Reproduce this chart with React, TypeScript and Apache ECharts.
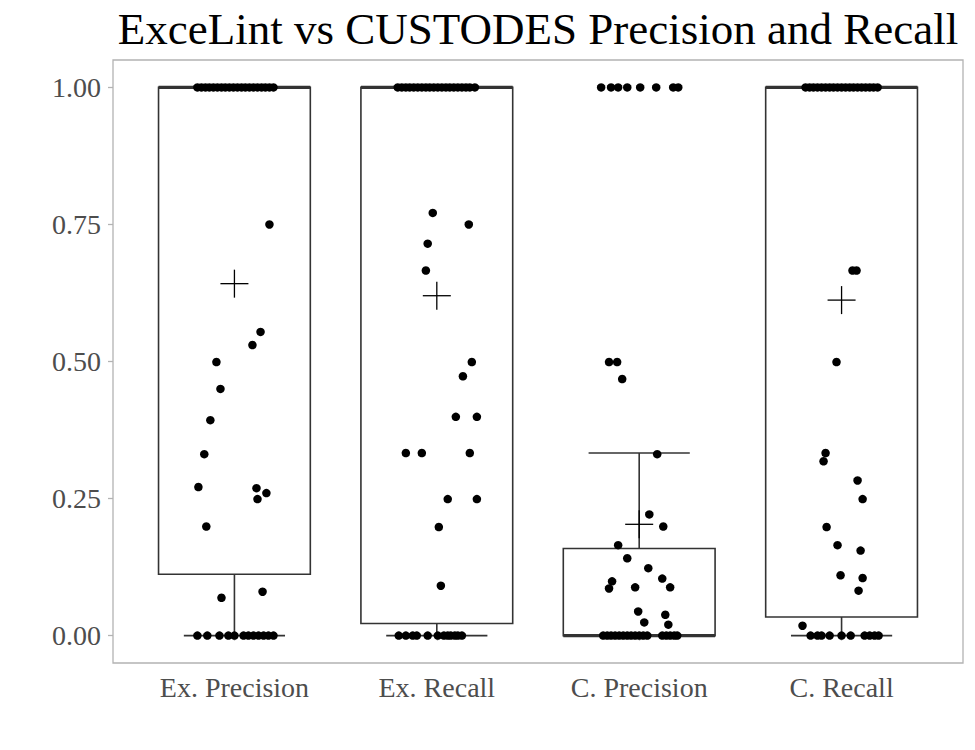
import React, { useEffect, useRef } from "react";
import * as echarts from "echarts";

// ---------- data ----------
const titleText = "ExceLint vs CUSTODES Precision and Recall";
const categories = ["Ex. Precision", "Ex. Recall", "C. Precision", "C. Recall"];
const yTicks = [0, 0.25, 0.5, 0.75, 1];

// box statistics per category
const boxMin = [0, 0, 0, 0];
const boxQ1 = [0.112, 0.022, 0, 0.034];
const boxMedian = [1, 1, 0, 1];
const boxQ3 = [1, 1, 0.159, 1];
const boxMax = [1, 1, 0.333, 1];
const means = [0.642, 0.62, 0.203, 0.612];

// jittered observations (value, horizontal jitter in category units)
const exPrecisionValues = [
  1, 1, 1, 1, 1, 1, 1, 1, 1, 1, 1, 1, 1, 1, 1, 1, 1, 1, 1, 1,
  0.75, 0.554, 0.53, 0.499, 0.45, 0.393, 0.331, 0.271, 0.269, 0.26, 0.249, 0.199, 0.08, 0.069,
  0, 0, 0, 0, 0, 0, 0, 0, 0, 0, 0, 0,
];
const exPrecisionJitter = [
  -0.183, -0.163, -0.143, -0.124, -0.104, -0.084, -0.064, -0.045, -0.025, -0.005, 0.015, 0.035, 0.054, 0.074, 0.094, 0.114, 0.134, 0.153, 0.173, 0.193,
  0.173, 0.129, 0.089, -0.089, -0.069, -0.119, -0.149, -0.178, 0.109, 0.158, 0.114, -0.139, 0.139, -0.064,
  -0.183, -0.134, -0.074, -0.03, 0, 0.045, 0.069, 0.094, 0.119, 0.144, 0.168, 0.193,
];

const exRecallValues = [
  1, 1, 1, 1, 1, 1, 1, 1, 1, 1, 1, 1, 1, 1, 1, 1, 1, 1, 1, 1,
  0.771, 0.75, 0.715, 0.666, 0.499, 0.473, 0.399, 0.399, 0.333, 0.333, 0.333, 0.249, 0.249, 0.198, 0.091,
  0, 0, 0, 0, 0, 0, 0, 0, 0, 0, 0, 0,
];
const exRecallJitter = [
  -0.193, -0.173, -0.153, -0.134, -0.114, -0.094, -0.074, -0.054, -0.035, -0.015, 0.005, 0.025, 0.045, 0.064, 0.084, 0.104, 0.124, 0.144, 0.163, 0.188,
  -0.02, 0.158, -0.045, -0.054, 0.173, 0.129, 0.094, 0.198, -0.153, -0.074, 0.163, 0.054, 0.198, 0.01, 0.02,
  -0.188, -0.153, -0.119, -0.099, -0.045, 0.005, 0.035, 0.054, 0.069, 0.089, 0.104, 0.124,
];

const cPrecisionValues = [
  1, 1, 1, 1, 1, 1, 1, 1,
  0.499, 0.499, 0.468, 0.331, 0.221, 0.199, 0.165, 0.141, 0.123, 0.104, 0.099, 0.086, 0.088, 0.088, 0.044, 0.038, 0.024, 0.02,
  0, 0, 0, 0, 0, 0, 0, 0, 0, 0, 0, 0, 0, 0, 0, 0, 0,
];
const cPrecisionJitter = [
  -0.188, -0.139, -0.104, -0.059, 0.005, 0.084, 0.168, 0.193,
  -0.149, -0.109, -0.084, 0.089, 0.05, 0.119, -0.104, -0.059, 0.045, 0.114, -0.134, -0.149, -0.02, 0.153, -0.005, 0.129, 0.025, 0.144,
  -0.178, -0.158, -0.139, -0.119, -0.099, -0.079, -0.059, -0.04, -0.02, 0, 0.02, 0.04, 0.114, 0.134, 0.153, 0.173, 0.188,
];

const cRecallValues = [
  1, 1, 1, 1, 1, 1, 1, 1, 1, 1, 1, 1, 1, 1, 1, 1, 1, 1, 1,
  0.666, 0.666, 0.499, 0.333, 0.318, 0.283, 0.249, 0.198, 0.165, 0.155, 0.11, 0.105, 0.082, 0.018,
  0, 0, 0, 0, 0, 0, 0, 0, 0, 0,
];
const cRecallJitter = [
  -0.178, -0.158, -0.139, -0.119, -0.099, -0.079, -0.059, -0.04, -0.02, 0, 0.02, 0.04, 0.059, 0.079, 0.099, 0.119, 0.139, 0.158, 0.178,
  0.054, 0.074, -0.025, -0.079, -0.089, 0.079, 0.104, -0.074, -0.02, 0.094, -0.005, 0.104, 0.084, -0.193,
  -0.153, -0.119, -0.099, -0.059, 0, 0.045, 0.114, 0.139, 0.163, 0.183,
];

const pointValues = [exPrecisionValues, exRecallValues, cPrecisionValues, cRecallValues];
const pointJitter = [exPrecisionJitter, exRecallJitter, cPrecisionJitter, cRecallJitter];

// ---------- chart ----------
const FONT = "'Liberation Serif', 'DejaVu Serif', serif";
const BOX_LINE = "#333333";

function buildOption() {
  const boxData = categories.map((_, i) => [i + 1, boxMin[i], boxQ1[i], boxMedian[i], boxQ3[i], boxMax[i]]);
  const meanData = categories.map((_, i) => [i + 1, means[i]]);
  const scatterData: number[][] = [];
  pointValues.forEach((vals, i) => {
    vals.forEach((v, j) => scatterData.push([i + 1 + pointJitter[i][j], v]));
  });

  return {
    animation: false,
    backgroundColor: "#ffffff",
    title: {
      text: titleText,
      left: 538,
      textAlign: "center",
      top: 6,
      padding: 0,
      textStyle: { fontFamily: FONT, fontSize: 45, fontWeight: "normal", color: "#000000" },
    },
    grid: {
      left: 113,
      right: 12,
      top: 60,
      bottom: 87,
      show: true,
      borderColor: "#B3B3B3",
      borderWidth: 1.3,
      backgroundColor: "transparent",
    },
    xAxis: {
      type: "value",
      min: 0.4,
      max: 4.6,
      axisLine: { show: false },
      splitLine: { show: false },
      axisTick: { show: true, length: 5, customValues: [1, 2, 3, 4], lineStyle: { color: "#B3B3B3", width: 1.3 } },
      axisLabel: {
        customValues: [1, 2, 3, 4],
        formatter: (v: number) => categories[Math.round(v) - 1] ?? "",
        fontFamily: FONT,
        fontSize: 28,
        color: "#4D4D4D",
        margin: 10,
      },
    },
    yAxis: {
      type: "value",
      min: -0.05,
      max: 1.05,
      axisLine: { show: false },
      splitLine: { show: false },
      axisTick: { show: true, length: 5, customValues: yTicks, lineStyle: { color: "#B3B3B3", width: 1.3 } },
      axisLabel: {
        customValues: yTicks,
        formatter: (v: number) => v.toFixed(2),
        fontFamily: FONT,
        fontSize: 28,
        color: "#4D4D4D",
        margin: 12,
      },
    },
    series: [
      {
        type: "custom",
        name: "box",
        z: 1,
        data: boxData,
        renderItem: (params: any, api: any) => {
          const x = api.value(0);
          const pMin = api.coord([x, api.value(1)]);
          const pQ1 = api.coord([x, api.value(2)]);
          const pMed = api.coord([x, api.value(3)]);
          const pQ3 = api.coord([x, api.value(4)]);
          const pMax = api.coord([x, api.value(5)]);
          const halfBox = api.size([0.75, 0])[0] / 2;
          const halfCap = api.size([0.5, 0])[0] / 2;
          const cx = pMin[0];
          const lineStyle = { stroke: BOX_LINE, lineWidth: 1.6, fill: null };
          return {
            type: "group",
            children: [
              { type: "line", shape: { x1: cx, y1: pMin[1], x2: cx, y2: pMax[1] }, style: lineStyle },
              { type: "line", shape: { x1: cx - halfCap, y1: pMin[1], x2: cx + halfCap, y2: pMin[1] }, style: lineStyle },
              { type: "line", shape: { x1: cx - halfCap, y1: pMax[1], x2: cx + halfCap, y2: pMax[1] }, style: lineStyle },
              {
                type: "rect",
                shape: { x: cx - halfBox, y: pQ3[1], width: 2 * halfBox, height: pQ1[1] - pQ3[1] },
                style: { fill: "#ffffff", stroke: BOX_LINE, lineWidth: 1.6 },
              },
              { type: "line", shape: { x1: cx - halfBox, y1: pMed[1], x2: cx + halfBox, y2: pMed[1] }, style: { stroke: BOX_LINE, lineWidth: 3.4 } },
            ],
          };
        },
      },
      {
        type: "scatter",
        name: "points",
        z: 2,
        symbol: "circle",
        symbolSize: 8.5,
        itemStyle: { color: "#000000", opacity: 1 },
        data: scatterData,
      },
      {
        type: "custom",
        name: "mean",
        z: 3,
        data: meanData,
        renderItem: (params: any, api: any) => {
          const p = api.coord([api.value(0), api.value(1)]);
          const h = 14;
          const st = { stroke: "#000000", lineWidth: 1.3 };
          return {
            type: "group",
            children: [
              { type: "line", shape: { x1: p[0] - h, y1: p[1], x2: p[0] + h, y2: p[1] }, style: st },
              { type: "line", shape: { x1: p[0], y1: p[1] - h, x2: p[0], y2: p[1] + h }, style: st },
            ],
          };
        },
      },
    ],
  };
}

export default function App() {
  const ref = useRef<HTMLDivElement>(null);
  useEffect(() => {
    document.body.style.margin = "0";
    if (!ref.current) return;
    const chart = echarts.init(ref.current, null, { renderer: "svg" });
    chart.setOption(buildOption() as any);
    return () => chart.dispose();
  }, []);
  return <div ref={ref} style={{ width: 975, height: 750 }} />;
}
